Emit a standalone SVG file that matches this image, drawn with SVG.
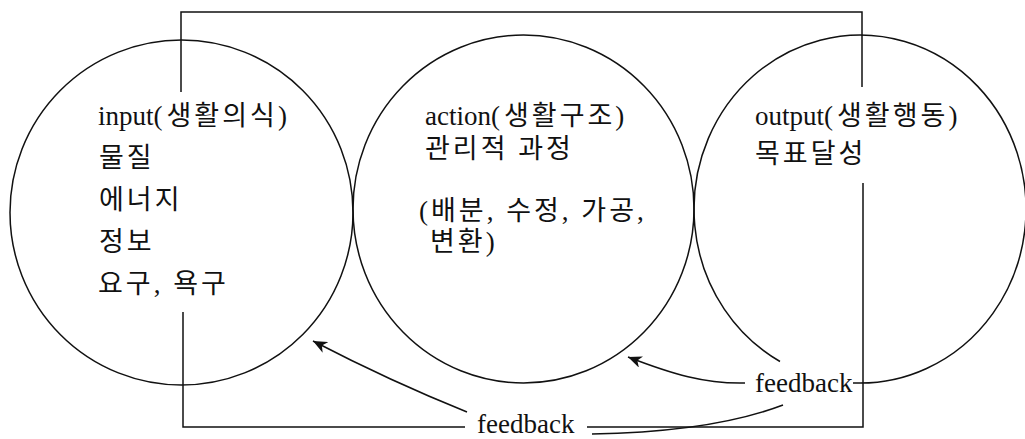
<svg xmlns="http://www.w3.org/2000/svg" width="1025" height="439" viewBox="0 0 1025 439">
<style>
.c{fill:none;stroke:#111;stroke-width:1.5}
.l{fill:none;stroke:#111;stroke-width:1.5}
text{font-family:"Liberation Serif","Noto Sans CJK KR",serif;font-size:27px;fill:#111}
.k{letter-spacing:3px}
</style>
<defs>
<marker id="ah" markerUnits="userSpaceOnUse" markerWidth="16" markerHeight="12" refX="14" refY="6" orient="auto">
<path d="M0,0 L14,6 L0,12 L4,6 Z" fill="#111"/>
</marker>
</defs>
<rect width="1025" height="439" fill="#fff"/>
<g id="node-input">
<ellipse class="c" cx="181.5" cy="212.5" rx="171.5" ry="172.5"/>
<text x="98" y="125">input(<tspan class="k" dx="4">생활의식</tspan>)</text>
<text class="k" x="99" y="167">물질</text>
<text class="k" x="99" y="209">에너지</text>
<text class="k" x="99" y="251">정보</text>
<text class="k" x="98" y="293">요구, 욕구</text>
</g>
<g id="node-action">
<ellipse class="c" cx="523.5" cy="209" rx="170.5" ry="174"/>
<text x="425" y="125">action(<tspan class="k" dx="4">생활구조</tspan>)</text>
<text class="k" x="425" y="158">관리적 과정</text>
<text class="k" x="419" y="220">(배분, 수정, 가공,</text>
<text class="k" x="430" y="251">변환)</text>
</g>
<g id="node-output">
<path class="c" d="M853,382.9 A166,174 0 1 0 780,361.5"/>
<text x="755" y="125">output(<tspan class="k" dx="4">생활행동</tspan>)</text>
<text class="k" x="755" y="163">목표달성</text>
</g>
<g id="connectors">
<polyline class="l" points="181,92 181,12 862,12 862,87"/>
<polyline class="l" points="863,183 863,427 587,427"/>
<polyline class="l" points="465,427 183,427 183,312"/>
<path class="l" d="M467,412 Q390,381 313,341" marker-end="url(#ah)"/>
<path class="l" d="M745,383 C705,384 672,374 628,357" marker-end="url(#ah)"/>
<path class="l" d="M783,405 Q712,432 592,434"/>
<text x="755" y="392">feedback</text>
<text x="477" y="433">feedback</text>
</g>
</svg>
